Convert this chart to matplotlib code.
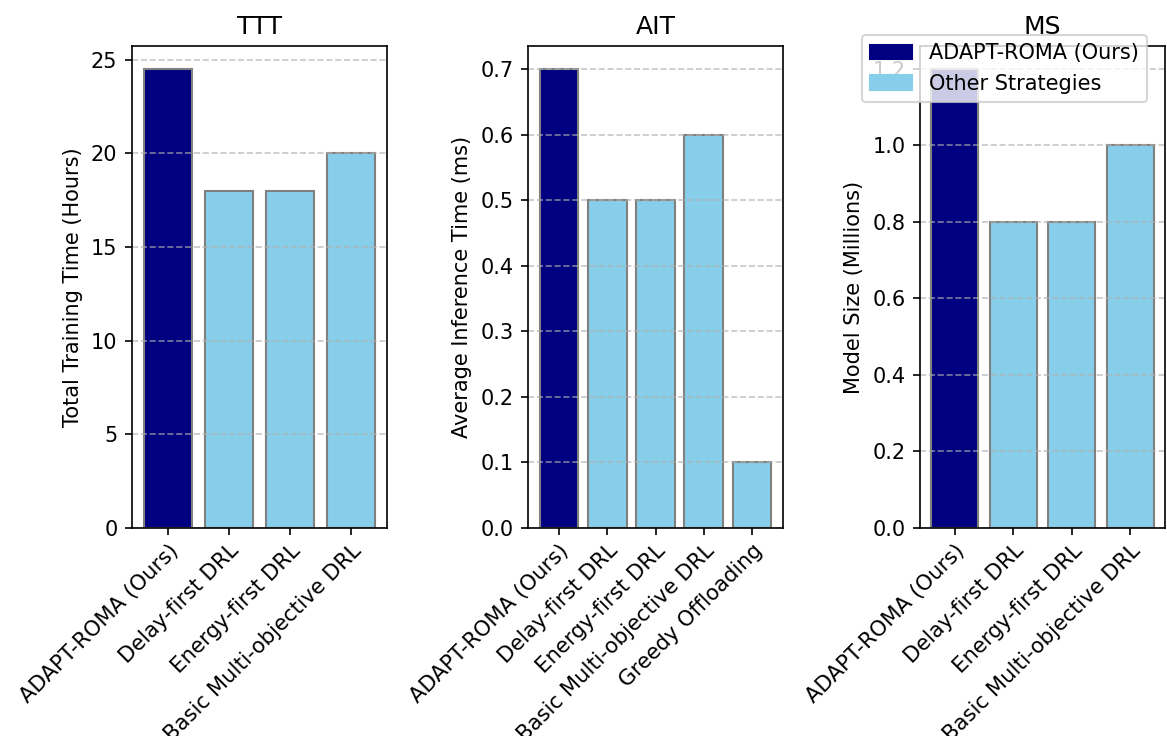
import matplotlib.pyplot as plt
from matplotlib.patches import Patch

# bar labels for each panel
ttt_labels = ['ADAPT-ROMA (Ours)', 'Delay-first DRL', 'Energy-first DRL', 'Basic Multi-objective DRL']
ait_labels = ['ADAPT-ROMA (Ours)', 'Delay-first DRL', 'Energy-first DRL', 'Basic Multi-objective DRL',
              'Greedy Offloading']
ms_labels = ['ADAPT-ROMA (Ours)', 'Delay-first DRL', 'Energy-first DRL', 'Basic Multi-objective DRL']

ttt_values = [24.5, 18, 18, 20]
ait_values = [0.7, 0.5, 0.5, 0.6, 0.1]
ms_values = [1.2, 0.8, 0.8, 1.0]

ours_color = 'navy'
other_color = 'skyblue'

fig = plt.figure(figsize=(1167 / 150, 736 / 150), dpi=150)

# axes boxes in pixels (left, right), shared top/bottom
W, H = 1167, 736
top, bottom = 46, 528
boxes = [(132, 387), (528, 783), (920, 1165)]

panels = [
    ('TTT', ttt_labels, ttt_values, 'Total Training Time (Hours)'),
    ('AIT', ait_labels, ait_values, 'Average Inference Time (ms)'),
    ('MS', ms_labels, ms_values, 'Model Size (Millions)'),
]

for (l, r), (title, labels, values, ylabel) in zip(boxes, panels):
    ax = fig.add_axes([l / W, 1 - bottom / H, (r - l) / W, (bottom - top) / H])
    colors = [ours_color] + [other_color] * (len(values) - 1)
    ax.bar(labels, values, color=colors, edgecolor='gray')
    ax.set_title(title)
    ax.set_ylabel(ylabel)
    ax.grid(axis='y', linestyle='--', alpha=0.7)
    ax.tick_params(axis='x', pad=2.5)
    plt.setp(ax.get_xticklabels(), rotation=45, ha='right', rotation_mode='anchor',
             fontsize=10.2)

handles = [Patch(color=ours_color, label='ADAPT-ROMA (Ours)'),
           Patch(color=other_color, label='Other Strategies')]
fig.legend(handles=handles, loc='upper right', bbox_to_anchor=(1147 / W, 1 - 35 / H),
           borderaxespad=0)

fig.savefig('out.png', dpi=150)
